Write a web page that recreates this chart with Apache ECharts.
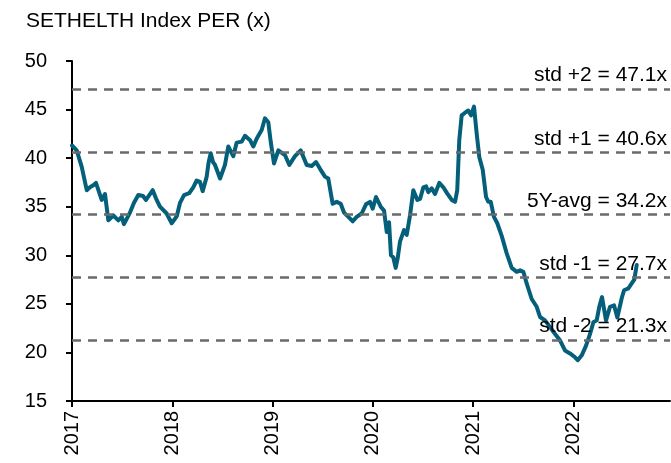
<!DOCTYPE html>
<html>
<head>
<meta charset="utf-8">
<script src="https://cdn.jsdelivr.net/npm/echarts@6/dist/echarts.min.js"></script>
<style>
  html, body { margin: 0; padding: 0; background: #fff; }
  #chart { width: 671px; height: 463px; }
</style>
</head>
<body>
<div id="chart"></div>
<script>
// Time position (decimal year) of each observation
const years = [
  2017.000, 2017.047, 2017.097, 2017.147, 2017.179, 2017.212, 2017.239, 2017.296, 2017.329, 2017.362,
  2017.412, 2017.462, 2017.496, 2017.518, 2017.578, 2017.618, 2017.661, 2017.708, 2017.738, 2017.805,
  2017.844, 2017.877, 2017.944, 2017.994,
  2018.044, 2018.077, 2018.117, 2018.169, 2018.209, 2018.243, 2018.276, 2018.303, 2018.343, 2018.361,
  2018.383, 2018.406, 2018.426, 2018.476, 2018.525, 2018.558, 2018.608, 2018.642, 2018.692, 2018.725,
  2018.775, 2018.808, 2018.841, 2018.891, 2018.924, 2018.957, 2018.981,
  2019.014, 2019.057, 2019.124, 2019.167, 2019.223, 2019.280, 2019.340, 2019.390, 2019.433, 2019.473,
  2019.522, 2019.555, 2019.599, 2019.639, 2019.679, 2019.712, 2019.755, 2019.799, 2019.838, 2019.888,
  2019.931, 2019.971, 2019.998,
  2020.031, 2020.078, 2020.111, 2020.138, 2020.161, 2020.180, 2020.203, 2020.227, 2020.247, 2020.270,
  2020.310, 2020.337, 2020.370, 2020.403, 2020.443, 2020.470, 2020.503, 2020.530, 2020.552, 2020.586,
  2020.619, 2020.662, 2020.702, 2020.742, 2020.786, 2020.819, 2020.841, 2020.861, 2020.885, 2020.928,
  2020.951, 2020.978,
  2021.008, 2021.035, 2021.061, 2021.095, 2021.128, 2021.151, 2021.175, 2021.207, 2021.240, 2021.284,
  2021.334, 2021.384, 2021.434, 2021.467, 2021.500, 2021.533, 2021.583, 2021.633, 2021.666, 2021.716,
  2021.766, 2021.816, 2021.865, 2021.915, 2021.965,
  2022.015, 2022.042, 2022.082, 2022.125, 2022.165, 2022.198, 2022.231, 2022.257, 2022.284, 2022.324,
  2022.364, 2022.404, 2022.437, 2022.481, 2022.504, 2022.547, 2022.580, 2022.606, 2022.630
];

// SETHELTH Index PER (x)
const per = [
  41.3, 40.8, 39.1, 36.7, 37.0, 37.2, 37.45, 35.7, 36.3, 33.6,
  34.1, 33.6, 33.95, 33.2, 34.4, 35.4, 36.2, 36.1, 35.7, 36.7,
  35.7, 35.0, 34.3, 33.3,
  34.0, 35.4, 36.2, 36.4, 37.0, 37.7, 37.55, 36.6, 38.1, 39.5,
  40.5, 39.6, 39.3, 37.9, 39.3, 41.2, 40.2, 41.6, 41.7, 42.3,
  41.85, 41.2, 42.0, 42.9, 44.1, 43.7, 41.7,
  39.45, 40.8, 40.3, 39.3, 40.2, 40.8, 39.3, 39.2, 39.6, 38.9,
  38.1, 37.9, 35.3, 35.5, 35.3, 34.4, 33.95, 33.5, 33.95, 34.3,
  35.25, 35.5, 34.8,
  36.0, 35.0, 34.6, 32.4, 33.4, 30.0, 29.8, 28.7, 29.7, 31.4,
  32.6, 32.1, 34.1, 36.7, 35.7, 35.8, 37.0, 37.1, 36.5, 36.9,
  36.3, 37.45, 37.0, 36.35, 35.7, 35.5, 36.7, 41.85, 44.4, 44.75,
  44.9, 44.4,
  45.3, 42.5, 40.1, 38.8, 36.0, 35.5, 35.5, 33.95, 33.3, 32.0,
  30.2, 28.7, 28.3, 28.45, 28.3, 27.1, 25.5, 24.7, 23.65, 23.3,
  22.6, 21.9, 21.25, 20.2, 19.9,
  19.5, 19.2, 19.7, 20.7, 21.9, 23.1, 23.3, 24.7, 25.7, 23.3,
  24.7, 24.85, 23.6, 25.6, 26.4, 26.6, 27.1, 27.5, 29.0
];

// Reference levels
const levelValues = [47.1, 40.6, 34.2, 27.7, 21.3];
const levelLabels = ['std +2 = 47.1x', 'std +1 = 40.6x', '5Y-avg = 34.2x', 'std -1 = 27.7x', 'std -2 = 21.3x'];

// Axis ticks
const yearTicks = [2017, 2018, 2019, 2020, 2021, 2022];
const titleText = 'SETHELTH Index PER (x)';

const FONT = '"Liberation Sans", Arial, Helvetica, sans-serif';

const chart = echarts.init(document.getElementById('chart'));
chart.setOption({
  animation: false,
  backgroundColor: '#ffffff',
  title: {
    text: titleText,
    left: 26,
    top: 11,
    padding: 0,
    textStyle: { fontFamily: FONT, fontSize: 21, fontWeight: 'normal', color: '#000' }
  },
  grid: { left: 72, right: 1, top: 61, bottom: 62, containLabel: false },
  xAxis: {
    type: 'value',
    min: 2017,
    max: 2022.962,
    interval: 1,
    splitLine: { show: false },
    axisLine: { show: true, onZero: false, lineStyle: { color: '#000', width: 2 } },
    axisTick: { show: true, length: 6, lineStyle: { color: '#000', width: 2 }, customValues: yearTicks },
    axisLabel: {
      rotate: 90,
      margin: 10,
      fontFamily: FONT,
      fontSize: 20,
      color: '#000',
      customValues: yearTicks,
      formatter: v => String(Math.round(v))
    }
  },
  yAxis: {
    type: 'value',
    min: 15,
    max: 50,
    interval: 5,
    splitLine: { show: false },
    axisLine: { show: true, lineStyle: { color: '#000', width: 2 } },
    axisTick: { show: true, length: 6, lineStyle: { color: '#000', width: 2 } },
    axisLabel: { margin: 25, fontFamily: FONT, fontSize: 20, color: '#000' }
  },
  series: [
    {
      type: 'line',
      name: 'levels',
      data: [],
      z: 1,
      silent: true,
      markLine: {
        silent: true,
        symbol: ['none', 'none'],
        animation: false,
        lineStyle: { color: '#6a6a6a', width: 2.5, type: [9, 7] },
        label: {
          show: true,
          position: 'insideEndTop',
          distance: [3, 3],
          formatter: '{b}',
          fontFamily: FONT,
          fontSize: 21,
          color: '#000'
        },
        emphasis: { disabled: true },
        data: levelValues.map((v, i) => ({ yAxis: v, name: levelLabels[i] }))
      }
    },
    {
      type: 'line',
      name: 'PER',
      z: 3,
      data: years.map((y, i) => [y, per[i]]),
      showSymbol: false,
      symbol: 'none',
      smooth: false,
      lineStyle: { color: '#045f7a', width: 4, join: 'round', cap: 'round' }
    }
  ]
});
</script>
</body>
</html>
